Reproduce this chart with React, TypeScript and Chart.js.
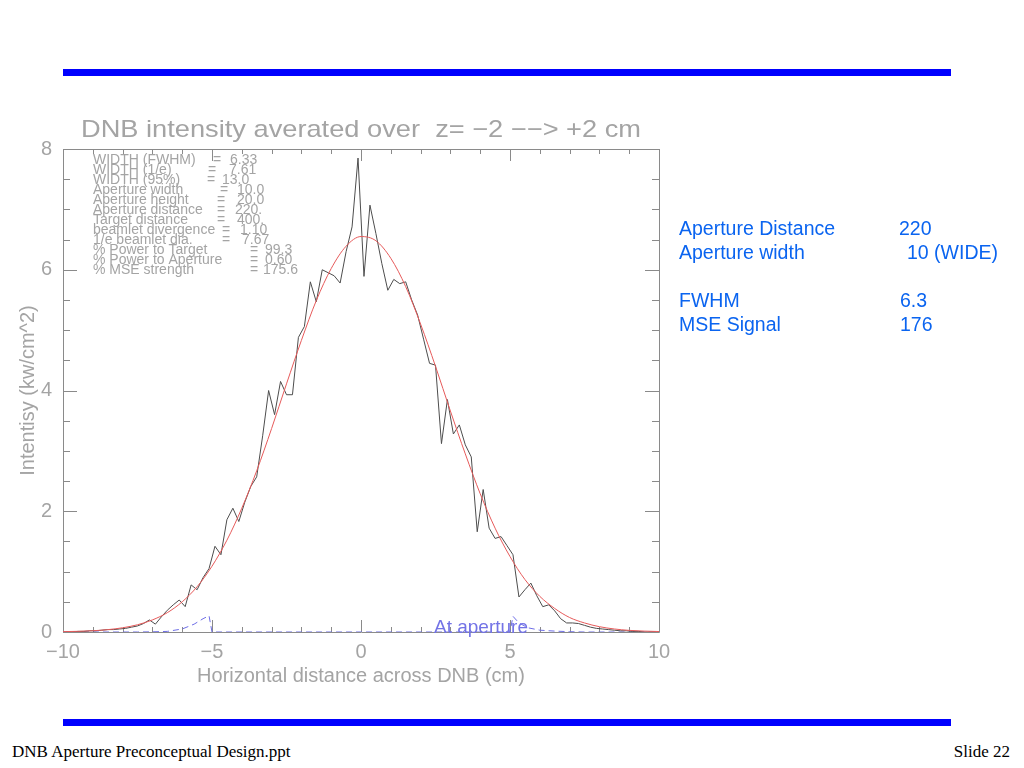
import React, { useEffect, useRef } from "react";
import { Chart, registerables } from "chart.js";

Chart.register(...registerables);

// ---- data ----
const X_POS = [
  -9.9, -9.7, -9.5, -9.3, -9.1, -8.9, -8.7, -8.5, -8.3, -8.1,
  -7.9, -7.7, -7.5, -7.3, -7.1, -6.9, -6.7, -6.5, -6.3, -6.1,
  -5.9, -5.7, -5.5, -5.3, -5.1, -4.9, -4.7, -4.5, -4.3, -4.1,
  -3.9, -3.7, -3.5, -3.3, -3.1, -2.9, -2.7, -2.5, -2.3, -2.1,
  -1.9, -1.7, -1.5, -1.3, -1.1, -0.9, -0.7, -0.5, -0.3, -0.1,
  0.1, 0.3, 0.5, 0.7, 0.9, 1.1, 1.3, 1.5, 1.7, 1.9,
  2.1, 2.3, 2.5, 2.7, 2.9, 3.1, 3.3, 3.5, 3.7, 3.9,
  4.1, 4.3, 4.5, 4.7, 4.9, 5.1, 5.3, 5.5, 5.7, 5.9,
  6.1, 6.3, 6.5, 6.7, 6.9, 7.1, 7.3, 7.5, 7.7, 7.9,
  8.1, 8.3, 8.5, 8.7, 8.9, 9.1, 9.3, 9.5, 9.7, 9.9,
];
const INTENSITY = [
  0.0, 0.0, 0.01, 0.01, 0.02, 0.02, 0.03, 0.04, 0.04, 0.05,
  0.06, 0.08, 0.1, 0.14, 0.2, 0.13, 0.25, 0.36, 0.45, 0.53,
  0.42, 0.78, 0.7, 0.9, 1.05, 1.42, 1.28, 1.86, 2.05, 1.83,
  2.15, 2.41, 2.57, 3.25, 4.0, 3.6, 4.15, 3.93, 3.93, 4.88,
  5.06, 5.8, 5.47, 6.0, 5.95, 5.9, 5.78, 6.3, 6.71, 7.85,
  5.89, 7.07, 6.6, 6.1, 5.66, 5.84, 5.77, 5.8, 5.5, 5.25,
  4.85, 4.45, 4.42, 3.12, 3.85, 3.28, 3.43, 3.1, 2.9, 1.66,
  2.36, 1.72, 1.55, 1.58, 1.43, 1.28, 0.58, 0.7, 0.81, 0.6,
  0.42, 0.45, 0.35, 0.22, 0.15, 0.15, 0.14, 0.11, 0.08, 0.06,
  0.05, 0.04, 0.03, 0.02, 0.02, 0.01, 0.01, 0.0, 0.0, 0.0,
];
const FIT_X = [
  -10, -9.5, -9, -8.5, -8, -7.5, -7, -6.5, -6, -5.5, -5, -4.5, -4, -3.5,
  -3, -2.5, -2, -1.5, -1, -0.5, 0, 0.5, 1, 1.5, 2, 2.5, 3, 3.5, 4, 4.5,
  5, 5.5, 6, 6.5, 7, 7.5, 8, 8.5, 9, 9.5, 10,
];
const FIT_Y = [
  0.006, 0.011, 0.021, 0.039, 0.07, 0.12, 0.2, 0.32, 0.5, 0.75, 1.09, 1.52, 2.05, 2.67,
  3.37, 4.11, 4.83, 5.49, 6.02, 6.39, 6.55, 6.48, 6.19, 5.72, 5.1, 4.4, 3.66, 2.95, 2.29, 1.72,
  1.25, 0.87, 0.59, 0.39, 0.24, 0.15, 0.088, 0.05, 0.027, 0.015, 0.008,
];
const APER_X = [-10, -9, -8, -7.5, -7, -6.5, -6, -5.6, -5.3, -5.1, -5, 5, 5.1, 5.3, 5.6, 6, 6.5, 7, 7.5, 8, 9, 10];
const APER_Y = [0, 0, 0, 0, 0.003, 0.01, 0.05, 0.13, 0.22, 0.27, 0, 0, 0.26, 0.15, 0.07, 0.03, 0.015, 0.005, 0, 0, 0, 0];

const X_MIN = -10;
const X_MAX = 10;
const Y_MIN = 0;
const Y_MAX = 8;

const TITLE = "DNB intensity averated over  z= \u22122 \u2212\u2212> +2 cm";
const X_TITLE = "Horizontal distance across DNB (cm)";
const Y_TITLE = "Intentisy (kw/cm^2)";
const APER_LABEL = "At aperture";

const INFO_LABELS = [
  "WIDTH (FWHM)", "WIDTH (1/e)", "WIDTH (95%)", "Aperture width", "Aperture height",
  "Aperture distance", "Target distance", "beamlet divergence", "1/e beamlet dia.",
  "% Power to Target", "% Power to Aperture", "% MSE strength",
];
const INFO_VALUES = ["6.33", "7.61", "13.0", "10.0", "20.0", "220.", "400.", "1.10", "7.67", "99.3", "0.60", "175.6"];

const SUMMARY_LABELS = ["Aperture Distance", "Aperture width", "", "FWHM", "MSE Signal"];
const SUMMARY_VALUES = ["220", "10 (WIDE)", "", "6.3", "176"];

const FOOTER_LEFT = "DNB Aperture Preconceptual Design.ppt";
const FOOTER_RIGHT = "Slide 22";

// ---- layout / style ----
const GREY = "#a4a4a4";
const FRAME = "#8a8a8a";
const FONT = '"Liberation Sans", Arial, sans-serif';
const EQ_OFF = [150, 145, 144, 157, 154, 154, 154, 159, 159, 187, 187, 187];
const VAL_OFF = [167, 166, 159, 174, 174, 172, 174, 177, 179, 202, 202, 200];
const SUMMARY_VALUE_LEFT = [899, 907, 0, 900, 900];

const fmt = (v: number) => (v < 0 ? "\u2212" + Math.abs(v) : String(v));

const idlPlugin = {
  id: "idlPlugin",
  beforeDatasetsDraw(chart: any) {
    const { ctx, chartArea: a, scales } = chart;
    const xs = scales.x;
    const ys = scales.y;
    ctx.save();
    ctx.strokeStyle = FRAME;
    ctx.lineWidth = 1;
    ctx.beginPath();
    ctx.rect(a.left + 0.5, a.top + 0.5, a.right - a.left, a.bottom - a.top);
    for (let v = X_MIN; v <= X_MAX; v += 1) {
      const px = Math.round(xs.getPixelForValue(v)) + 0.5;
      const len = v % 5 === 0 ? 12 : 5;
      ctx.moveTo(px, a.bottom);
      ctx.lineTo(px, a.bottom - len);
      ctx.moveTo(px, a.top);
      ctx.lineTo(px, a.top + len);
    }
    for (let v = Y_MIN; v <= Y_MAX; v += 0.5) {
      const py = Math.round(ys.getPixelForValue(v)) + 0.5;
      const len = v % 2 === 0 ? 14 : 7;
      ctx.moveTo(a.left, py);
      ctx.lineTo(a.left + len, py);
      ctx.moveTo(a.right, py);
      ctx.lineTo(a.right - len, py);
    }
    ctx.stroke();
    ctx.restore();
  },
  afterDraw(chart: any) {
    const { ctx, chartArea: a, scales } = chart;
    ctx.save();
    // title, stretched like the vector font
    ctx.fillStyle = GREY;
    ctx.font = "24px " + FONT;
    ctx.textBaseline = "middle";
    ctx.textAlign = "center";
    const w = ctx.measureText(TITLE).width;
    const sx = 560 / w;
    ctx.save();
    ctx.translate((a.left + a.right) / 2, a.top - 19);
    ctx.scale(sx, 1);
    ctx.fillText(TITLE, 0, 0);
    ctx.restore();

    // info block
    ctx.font = "14px " + FONT;
    ctx.textAlign = "left";
    INFO_LABELS.forEach((lab, i) => {
      const yy = a.top + 11 + i * 10;
      ctx.fillText(lab, a.left + 30, yy);
      ctx.fillText("=", a.left + EQ_OFF[i], yy);
      ctx.fillText(INFO_VALUES[i], a.left + VAL_OFF[i], yy);
    });

    // aperture label
    ctx.fillStyle = "#7373e6";
    ctx.font = "19px " + FONT;
    ctx.textBaseline = "alphabetic";
    ctx.fillText(APER_LABEL, scales.x.getPixelForValue(2.45), scales.y.getPixelForValue(0) + 1);
    ctx.restore();
  },
};

function ChartCanvas() {
  const ref = useRef<HTMLCanvasElement | null>(null);
  useEffect(() => {
    if (!ref.current) return;
    const chart = new Chart(ref.current, {
      type: "line",
      data: {
        datasets: [
          {
            label: "fit",
            data: FIT_X.map((x, i) => ({ x, y: FIT_Y[i] })),
            borderColor: "#e65a5a",
            borderWidth: 1,
            pointRadius: 0,
            cubicInterpolationMode: "monotone",
            order: 0,
          },
          {
            label: "intensity",
            data: X_POS.map((x, i) => ({ x, y: INTENSITY[i] })),
            borderColor: "#4d4d4d",
            borderWidth: 1,
            pointRadius: 0,
            tension: 0,
            order: 1,
          },
          {
            label: "aperture",
            data: APER_X.map((x, i) => ({ x, y: APER_Y[i] })),
            borderColor: "#6d6de6",
            borderWidth: 1,
            borderDash: [6, 4],
            pointRadius: 0,
            tension: 0,
            order: 2,
          },
        ],
      },
      options: {
        responsive: false,
        animation: false,
        events: [],
        layout: { padding: { top: 49, right: 41, left: 0, bottom: 0 } },
        plugins: {
          legend: { display: false },
          tooltip: { enabled: false },
          title: { display: false },
        },
        scales: {
          x: {
            type: "linear",
            min: X_MIN,
            max: X_MAX,
            grid: { display: false, drawTicks: false },
            border: { display: false },
            ticks: {
              stepSize: 5,
              padding: 8,
              color: GREY,
              font: { family: FONT, size: 20 },
              callback: (v: any) => fmt(Number(v)),
              maxRotation: 0,
            },
            title: {
              display: true,
              text: X_TITLE,
              color: GREY,
              font: { family: FONT, size: 20 },
              padding: { top: 0, bottom: 12 },
            },
            afterFit: (s: any) => {
              s.height = 68;
            },
          },
          y: {
            type: "linear",
            min: Y_MIN,
            max: Y_MAX,
            grid: { display: false, drawTicks: false },
            border: { display: false },
            ticks: {
              stepSize: 2,
              padding: 11,
              color: GREY,
              font: { family: FONT, size: 20 },
            },
            title: {
              display: true,
              text: Y_TITLE,
              color: GREY,
              font: { family: FONT, size: 20 },
              padding: { top: 16, bottom: 0 },
            },
            afterFit: (s: any) => {
              s.width = 63;
            },
          },
        },
      } as any,
      plugins: [idlPlugin],
    });
    return () => chart.destroy();
  }, []);
  return (
    <canvas
      ref={ref}
      width={700}
      height={600}
      style={{ position: "absolute", left: 0, top: 100, width: 700, height: 600, display: "block" }}
    />
  );
}

export default function App() {
  const blue = "#0a64f0";
  return (
    <div style={{ position: "absolute", left: 0, top: 0, width: 1024, height: 768, background: "#fff", overflow: "hidden" }}>
      <div style={{ position: "absolute", left: 63, top: 69, width: 888, height: 7, background: "#0000ff" }} />
      <div style={{ position: "absolute", left: 63, top: 719, width: 888, height: 7, background: "#0000ff" }} />
      <ChartCanvas />
      {SUMMARY_LABELS.map((lab, i) => (
        <React.Fragment key={i}>
          <div style={{ position: "absolute", left: 679, top: 216 + i * 24, height: 24, lineHeight: "24px", fontFamily: FONT, fontSize: 19.5, color: blue, whiteSpace: "nowrap" }}>
            {lab}
          </div>
          {SUMMARY_VALUES[i] ? (
            <div style={{ position: "absolute", left: SUMMARY_VALUE_LEFT[i], top: 216 + i * 24, height: 24, lineHeight: "24px", fontFamily: FONT, fontSize: 19.5, color: blue, whiteSpace: "nowrap" }}>
              {SUMMARY_VALUES[i]}
            </div>
          ) : null}
        </React.Fragment>
      ))}
      <div style={{ position: "absolute", left: 12, top: 742, lineHeight: "20px", fontFamily: '"Liberation Serif", "Times New Roman", serif', fontSize: 17, color: "#000", whiteSpace: "nowrap" }}>
        {FOOTER_LEFT}
      </div>
      <div style={{ position: "absolute", right: 14, top: 742, lineHeight: "20px", fontFamily: '"Liberation Serif", "Times New Roman", serif', fontSize: 17, color: "#000", whiteSpace: "nowrap" }}>
        {FOOTER_RIGHT}
      </div>
    </div>
  );
}
